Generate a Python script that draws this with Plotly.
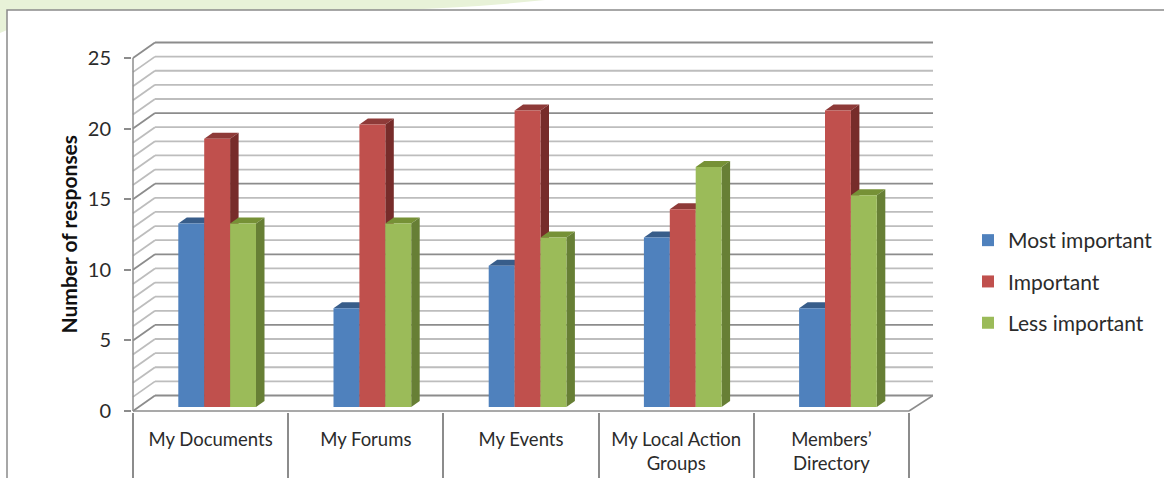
"""3D-look clustered column chart of feature importance responses."""

import plotly.graph_objects as go

CATEGORIES = ["My Documents", "My Forums", "My Events", "My Local Action<br>Groups", "Members’<br>Directory"]
MOST_IMPORTANT = [13, 7, 10, 12, 7]
IMPORTANT = [19, 20, 21, 14, 21]
LESS_IMPORTANT = [13, 13, 12, 17, 15]
Y_TICKS = [0, 5, 10, 15, 20, 25]
GRID_VALUES = list(range(0, 26))

SERIES = [
    ("Most important", MOST_IMPORTANT, "#4f81bd", "#385d8a", "#2f4f75"),
    ("Important", IMPORTANT, "#c0504d", "#8e3a38", "#772c2a"),
    ("Less important", LESS_IMPORTANT, "#9bbb59", "#769136", "#677f35"),
]

# pixel geometry of the plot, used only to convert to axis units
WIDTH, HEIGHT = 1164, 478
LEFT, RIGHT, TOP, BOTTOM = 132, 933, 39, 412
CAT_PX = 155.2
UNIT_PX = 14.12

WALL_DX = 22 / CAT_PX
WALL_DY = 15.5 / UNIT_PX
BAR_DX = 8.5 / CAT_PX
BAR_DY = 6 / UNIT_PX
BAR_BASE = 4 / UNIT_PX
BAR_WIDTH = 25.9 / CAT_PX
GROUP_START = 45.3 / CAT_PX

X_RANGE = [-1 / CAT_PX, 800 / CAT_PX]
Y_RANGE = [-1 / UNIT_PX, (411 - 39) / UNIT_PX]


def paper_x(px):
    return (px - LEFT) / (RIGHT - LEFT)


def paper_y(py):
    return (BOTTOM - py) / (BOTTOM - TOP)


def line_shape(x0, y0, x1, y1, color, width):
    return dict(type="line", xref="x", yref="y", x0=x0, y0=y0, x1=x1, y1=y1,
                line=dict(color=color, width=width), layer="below")


def poly_shape(points, color):
    path = "M " + " L ".join(f"{x},{y}" for x, y in points) + " Z"
    return dict(type="path", xref="x", yref="y", path=path, fillcolor=color,
                line=dict(width=0), layer="below")


n_cats = len(CATEGORIES)
shapes = []

# page background swoosh and the chart frame
shapes.append(dict(
    type="path", xref="paper", yref="paper", layer="below",
    path=(f"M {paper_x(0)},{paper_y(0)} L {paper_x(545)},{paper_y(0)} "
          f"Q {paper_x(480)},{paper_y(7)} {paper_x(400)},{paper_y(10)} "
          f"L {paper_x(7)},{paper_y(10)} L {paper_x(7)},{paper_y(30)} L {paper_x(0)},{paper_y(33)} Z"),
    fillcolor="#e8f2d8", line=dict(width=0),
))
shapes.append(dict(
    type="path", xref="paper", yref="paper", layer="below",
    path=(f"M {paper_x(7)},{paper_y(478)} L {paper_x(7)},{paper_y(10)} "
          f"L {paper_x(1164)},{paper_y(10)}"),
    line=dict(color="#8a8a8a", width=1.5),
))

# walls and floor
for v in GRID_VALUES:
    color = "#8c8c8c" if v % 5 == 0 else "#bdbdbd"
    shapes.append(line_shape(0, v, WALL_DX, v + WALL_DY, color, 1.8))
    shapes.append(line_shape(WALL_DX, v + WALL_DY, X_RANGE[1], v + WALL_DY, color, 1.8))
shapes.append(line_shape(n_cats, 0, X_RANGE[1], WALL_DY, "#8c8c8c", 1.5))
shapes.append(line_shape(0, 0, 0, Y_TICKS[-1], "#8c8c8c", 1.5))
shapes.append(line_shape(0, 0, n_cats, 0, "#8c8c8c", 1.5))

fig = go.Figure()

for k, (name, values, front, top_face, side_face) in enumerate(SERIES):
    offset = GROUP_START - 0.5 + k * BAR_WIDTH
    centers = [i + 0.5 for i in range(n_cats)]
    for c, v in zip(centers, values):
        x0 = c + offset
        x1 = x0 + BAR_WIDTH
        top = BAR_BASE + v
        shapes.append(poly_shape(
            [(x0, top), (x1, top), (x1 + BAR_DX, top + BAR_DY), (x0 + BAR_DX, top + BAR_DY)],
            top_face,
        ))
        shapes.append(poly_shape(
            [(x1, BAR_BASE), (x1, top), (x1 + BAR_DX, top + BAR_DY), (x1 + BAR_DX, BAR_BASE + BAR_DY)],
            side_face,
        ))
    fig.add_trace(go.Bar(
        x=centers, y=values, base=BAR_BASE, name=name, width=BAR_WIDTH, offset=offset,
        marker=dict(color=front, line=dict(width=0)),
        legendgroup=name,
    ))

fig.update_layout(
    width=WIDTH,
    height=HEIGHT,
    autosize=False,
    barmode="overlay",
    paper_bgcolor="white",
    plot_bgcolor="rgba(0,0,0,0)",
    margin=dict(l=LEFT, r=WIDTH - RIGHT, t=TOP, b=HEIGHT - BOTTOM, pad=0, autoexpand=False),
    font=dict(family="Lato, Noto Sans, sans-serif", color="#2b2b2b"),
    shapes=shapes,
    legend=dict(
        x=paper_x(968), xanchor="left", y=paper_y(220), yanchor="top",
        font=dict(size=21, color="#2b2b2b"), traceorder="grouped", tracegroupgap=11,
        itemwidth=30, bgcolor="rgba(0,0,0,0)",
    ),
    xaxis=dict(
        range=X_RANGE,
        tickvals=[i + 0.5 for i in range(n_cats)],
        ticktext=CATEGORIES,
        ticks="",
        ticklabelstandoff=14,
        tickfont=dict(size=18.5),
        showgrid=False,
        zeroline=False,
        showline=False,
        minor=dict(tickvals=list(range(n_cats + 1)), ticks="outside", ticklen=70,
                   tickcolor="#8c8c8c", tickwidth=1.5, showgrid=False),
    ),
    yaxis=dict(
        range=Y_RANGE,
        tickvals=Y_TICKS,
        ticks="outside",
        ticklen=7,
        tickcolor="#8c8c8c",
        tickwidth=1.5,
        ticklabelstandoff=9,
        tickfont=dict(size=20),
        showgrid=False,
        zeroline=False,
        showline=False,
    ),
    annotations=[dict(
        text="<b>Number of responses</b>", textangle=-90, showarrow=False,
        xref="paper", yref="paper", x=paper_x(68), y=paper_y(234.5),
        xanchor="center", yanchor="middle",
        font=dict(size=21, color="#111111"),
    )],
)

fig.write_html("out.html", config=dict(displayModeBar=False),
               post_script="document.body.style.margin = '0';")
